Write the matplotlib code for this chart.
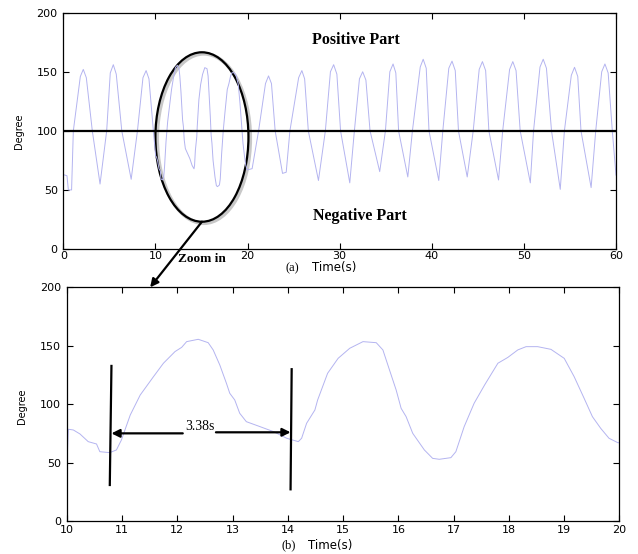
import matplotlib
matplotlib.use("Agg")
import matplotlib.pyplot as plt
from matplotlib.patches import Ellipse, ConnectionPatch

# Joint angle trace, 0-10 s (start, peaks with shoulders, troughs, 100-crossings)
t_start = [0, 0.4, 0.55, 0.9, 1.09, 1.85, 2.17, 2.5, 3.15, 3.99, 4.71, 5.1, 5.43, 5.75,
           6.35, 7.37, 8.05, 8.65, 8.99, 9.3, 9.78]
deg_start = [63, 62, 50, 50, 100, 146, 152, 145, 100, 55, 100, 149, 156, 148,
             100, 59, 100, 145, 151, 144, 100]

# 10-20 s segment, sampled finer (also shown in the lower panel)
t_zoom = [10.0, 10.03, 10.12, 10.24, 10.39, 10.54, 10.60, 10.78, 10.90, 10.99,
          11.15, 11.33, 11.57, 11.75, 11.96, 12.08, 12.17, 12.38, 12.56, 12.65,
          12.77, 12.89, 12.95, 13.04, 13.13, 13.25, 13.50, 13.74, 13.98, 14.19,
          14.25, 14.34, 14.49, 14.54, 14.72, 14.91, 15.12, 15.36, 15.60, 15.72,
          15.84, 15.96, 16.05, 16.14, 16.26, 16.47, 16.62, 16.74, 16.95, 17.04,
          17.19, 17.37, 17.56, 17.80, 17.98, 18.16, 18.31, 18.52, 18.76, 19.00,
          19.18, 19.36, 19.51, 19.66, 19.81, 19.97, 20.0]
deg_zoom = [40.8, 78.5, 77.9, 74.5, 67.9, 65.9, 59.3, 58.5, 60.8, 69.3,
            90.7, 107.8, 123.5, 135.0, 145.0, 148.6, 153.5, 155.5, 152.6, 146.4,
            133.5, 117.8, 109.3, 103.6, 92.2, 85.0, 80.7, 76.5, 70.8, 67.9,
            70.8, 83.6, 95.0, 103.6, 126.4, 139.2, 147.8, 153.5, 152.6, 146.4,
            129.2, 112.1, 96.4, 89.3, 75.0, 60.8, 53.6, 52.8, 54.2, 59.3,
            80.7, 100.7, 116.4, 135.0, 140.0, 146.4, 149.2, 149.2, 146.9, 139.2,
            123.5, 105.0, 89.3, 79.3, 70.8, 67.0, 67.0]

# 20-60 s
t_end = [20.5, 21.2, 21.95, 22.28, 22.6, 23.0, 23.8, 24.2, 24.6, 25.55, 25.9, 26.2, 26.6,
         27.7, 28.45, 29.0, 29.35, 29.7, 30.1, 31.1, 31.6, 32.15, 32.5, 32.85, 33.3,
         34.35, 34.97, 35.45, 35.8, 36.1, 36.4, 37.4, 37.9, 38.75, 39.07, 39.4, 39.7,
         40.76, 41.2, 41.85, 42.2, 42.55, 42.9, 43.85, 44.5, 45.15, 45.5, 45.85, 46.2,
         47.25, 47.7, 48.45, 48.8, 49.15, 49.6, 50.7, 51.05, 51.75, 52.1, 52.45, 53.0,
         53.95, 54.4, 55.15, 55.5, 55.85, 56.2, 57.3, 57.8, 58.45, 58.8, 59.15, 59.6,
         60.0]
deg_end = [68, 100, 140, 146.5, 140, 100, 64, 65, 100, 145, 151, 144, 100,
           58, 100, 150, 156, 148, 100, 56, 100, 144, 150, 143, 100,
           65.5, 100, 150, 156.6, 149, 100, 61, 100, 154, 160.6, 153, 100,
           58, 100, 153, 159, 151, 100, 61, 100, 152, 158.6, 151, 100,
           58.4, 100, 152, 158.6, 151, 100, 56, 100, 154, 160.6, 153, 100,
           50.5, 100, 147, 153.8, 146, 100, 52, 100, 150, 156.6, 149, 100,
           62.6]

period_bars_t = [10.80, 14.06]
period_label = "3.38s"

t_full = t_start + t_zoom[1:] + t_end
deg_full = deg_start + deg_zoom[1:] + deg_end

line_color = "#b4b4f0"
serif = ["Liberation Serif", "DejaVu Serif"]

fig = plt.figure(figsize=(6.38, 5.54), dpi=100)
ax1 = fig.add_axes([0.0992, 0.5505, 0.8663, 0.4266])
ax2 = fig.add_axes([0.1045, 0.0596, 0.8665, 0.4218])

for ax in (ax1, ax2):
    ax.tick_params(direction="in", top=True, right=True, length=4, width=0.8,
                   labelsize=8, pad=4)
    for s in ax.spines.values():
        s.set_linewidth(0.9)
    ax.set_ylim(0, 200)
    ax.set_yticks([0, 50, 100, 150, 200])
ax1.tick_params(axis="x", pad=1.5)
ax2.tick_params(axis="x", pad=3)

# (a) full trace
ax1.plot(t_full, deg_full, color=line_color, lw=0.7)
ax1.axhline(100, color="black", lw=1.6)
ax1.set_xlim(0, 60)
ax1.set_xticks([0, 10, 20, 30, 40, 50, 60])
ax1.text(31.8, 177, "Positive Part", family=serif, fontweight="bold", fontsize=11.5,
         ha="center", va="center")
ax1.text(32.2, 28, "Negative Part", family=serif, fontweight="bold", fontsize=11.5,
         ha="center", va="center")

# ellipse around the zoomed window, with a soft shadow
ax1.add_patch(Ellipse((15.25, 93.5), 10.1, 143.4, fill=False, ec="#c8c8c8", lw=2.6))
ax1.add_patch(Ellipse((15.05, 94.8), 10.1, 143.4, fill=False, ec="black", lw=1.6))

# (b) zoomed trace
ax2.plot(t_zoom, deg_zoom, color=line_color, lw=0.7)
ax2.set_xlim(10, 20)
ax2.set_xticks(range(10, 21))

ax2.plot([10.81, 10.78], [132.7, 30.8], color="black", lw=1.6)
ax2.plot([14.07, 14.05], [129.9, 27.1], color="black", lw=1.6)
ax2.annotate("", xy=(period_bars_t[0] + 0.01, 75.0), xytext=(12.10, 75.0),
             arrowprops=dict(arrowstyle="-|>", color="black", lw=1.6, mutation_scale=12,
                             shrinkA=0, shrinkB=0))
ax2.annotate("", xy=(period_bars_t[1] - 0.01, 75.9), xytext=(12.70, 75.9),
             arrowprops=dict(arrowstyle="-|>", color="black", lw=1.6, mutation_scale=12,
                             shrinkA=0, shrinkB=0))
ax2.text(12.41, 80.5, period_label, family=serif, fontsize=10, ha="center", va="center")

# arrow from the ellipse down to the lower panel
con = ConnectionPatch(xyA=(15.05, 23.1), coordsA=ax1.transData,
                      xyB=(11.51, 200), coordsB=ax2.transData,
                      arrowstyle="-|>", color="black", lw=1.6, mutation_scale=12,
                      shrinkA=0, shrinkB=0)
fig.add_artist(con)

fig.text(0.3166, 0.5325, "Zoom in", family=serif, fontweight="bold", fontsize=9.5,
         ha="center", va="center")

# axis titles
fig.text(0.0298, 0.7635, "Degree", rotation=90, fontsize=7, ha="center", va="center")
fig.text(0.0345, 0.2671, "Degree", rotation=90, fontsize=7, ha="center", va="center")
fig.text(0.4585, 0.5165, "(a)", family=serif, fontsize=9, ha="center", va="center")
fig.text(0.5235, 0.5165, "Time(s)", fontsize=8.5, ha="center", va="center")
fig.text(0.453, 0.0162, "(b)", family=serif, fontsize=9, ha="center", va="center")
fig.text(0.517, 0.0162, "Time(s)", fontsize=8.5, ha="center", va="center")

fig.savefig("out.png", dpi=100)
